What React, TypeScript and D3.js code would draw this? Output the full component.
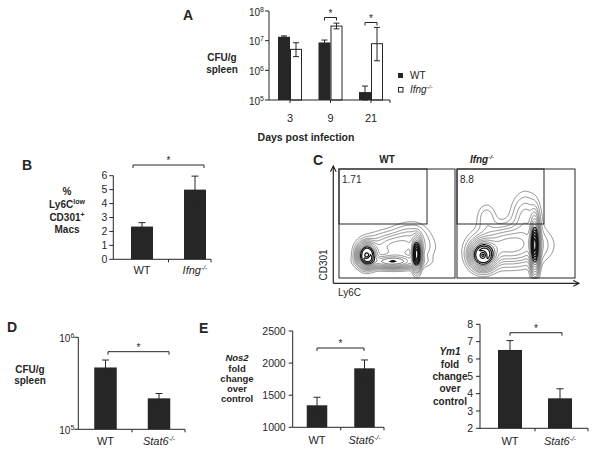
import React from "react";
import * as d3 from "d3";

const FONT = "'Liberation Sans', Arial, Helvetica, sans-serif";
const INK = "#262626";

// Panel A
const days = ["3", "9", "21"];
const wtMean = [1.35e7, 8.7e6, 1.85e5];
const wtLow = [1.3e7, 6.8e6, 1e5];
const wtHigh = [1.45e7, 1.05e7, 2.95e5];
const ifngMean = [5.1e6, 3.1e7, 7.9e6];
const ifngLow = [2.9e6, 2.5e7, 2.1e6];
const ifngHigh = [8.5e6, 3.9e7, 2.8e7];
const aTicks = [5, 6, 7, 8];

// Panel B
const bGroups = ["WT", "Ifng"];
const bMean = [2.35, 5.0];
const bErr = [0.28, 0.97];
const bTicks = [0, 1, 2, 3, 4, 5, 6];

// Panel C (contour approximations)
const wtBlobs = [
  { x: 0.24, y: 0.21, sx: 0.045, sy: 0.06, w: 1 },
  { x: 0.24, y: 0.21, sx: 0.02, sy: 0.025, w: -0.55 },
  { x: 0.67, y: 0.22, sx: 0.022, sy: 0.08, w: 0.9 },
  { x: 0.46, y: 0.15, sx: 0.13, sy: 0.035, w: 0.45 },
  { x: 0.5, y: 0.28, sx: 0.15, sy: 0.08, w: 0.22 },
  { x: 0.62, y: 0.4, sx: 0.09, sy: 0.07, w: 0.07 },
];
const ifngBlobs = [
  { x: 0.22, y: 0.21, sx: 0.06, sy: 0.07, w: 1 },
  { x: 0.22, y: 0.21, sx: 0.025, sy: 0.03, w: -0.6 },
  { x: 0.66, y: 0.3, sx: 0.022, sy: 0.14, w: 0.85 },
  { x: 0.45, y: 0.3, sx: 0.16, sy: 0.1, w: 0.3 },
  { x: 0.58, y: 0.55, sx: 0.07, sy: 0.13, w: 0.12 },
  { x: 0.25, y: 0.55, sx: 0.05, sy: 0.08, w: 0.06 },
];
const contourLevels = [0.02, 0.04, 0.07, 0.1, 0.14, 0.19, 0.25, 0.32, 0.4, 0.5, 0.6, 0.7, 0.8, 0.9];
const gateValues = ["1.71", "8.8"];

// Panel D
const dGroups = ["WT", "Stat6"];
const dMean = [4.7e5, 2.17e5];
const dLow = [3.9e5, 1.9e5];
const dHigh = [5.66e5, 2.45e5];

// Panel E
const nosMean = [1343, 1919];
const nosErr = [125, 130];
const nosTicks = [1000, 1500, 2000, 2500];
const ymMean = [6.52, 3.73];
const ymErr = [0.54, 0.55];
const ymTicks = [2, 3, 4, 5, 6, 7, 8];
const foldLines = ["fold", "change", "over", "control"];

function ErrBar({ x, y1, y2, cap = 7 }: { x: number; y1: number; y2: number; cap?: number }) {
  return (
    <g stroke={INK} strokeWidth={1}>
      <line x1={x} x2={x} y1={y1} y2={y2} />
      <line x1={x - cap / 2} x2={x + cap / 2} y1={y1} y2={y1} />
      <line x1={x - cap / 2} x2={x + cap / 2} y1={y2} y2={y2} />
    </g>
  );
}

function Bracket({ x1, x2, y }: { x1: number; x2: number; y: number }) {
  return (
    <g>
      <path d={`M${x1},${y + 3}V${y}H${x2}V${y + 3}`} fill="none" stroke={INK} strokeWidth={1} />
      <text x={(x1 + x2) / 2} y={y - 1} fontSize={10} textAnchor="middle" fontFamily={FONT} fill={INK}>*</text>
    </g>
  );
}

function Pow10({ x, y, e }: { x: number; y: number; e: number }) {
  return (
    <text x={x} y={y} fontSize={10} textAnchor="end" fontFamily={FONT} fill={INK} dy="0.35em">
      10<tspan fontSize={7} dy="-4">{e}</tspan>
    </text>
  );
}

function KO({ x, y, name, bold = false, size = 11, anchor = "middle" }: any) {
  return (
    <text x={x} y={y} fontSize={size} textAnchor={anchor} fontFamily={FONT} fill={INK} fontStyle="italic" fontWeight={bold ? "bold" : "normal"}>
      {name}<tspan fontSize={size * 0.62} dy={-4}>-/-</tspan>
    </text>
  );
}

function Contours({ x0, y0, w, h, blobs }: any) {
  const n = Math.round(w), m = Math.round(h);
  const values = new Array(n * m);
  for (let j = 0; j < m; j++) {
    for (let i = 0; i < n; i++) {
      const fx = (i + 0.5) / n;
      const fy = 1 - (j + 0.5) / m;
      let v = 0;
      for (const b of blobs) {
        const dx = (fx - b.x) / b.sx, dy = (fy - b.y) / b.sy;
        v += b.w * Math.exp(-0.5 * (dx * dx + dy * dy));
      }
      values[j * n + i] = v;
    }
  }
  const cs = d3.contours().size([n, m]).thresholds(contourLevels)(values);
  const path = d3.geoPath();
  return (
    <g transform={`translate(${x0},${y0})`}>
      {cs.map((c, k) => (
        <path key={k} d={path(c as any) || ""} fill="none" stroke={k > 7 ? "#111" : "#444"} strokeWidth={k > 8 ? 1.2 : 0.6} />
      ))}
    </g>
  );
}

export default function App() {
  const yA = d3.scaleLog().domain([1e5, 1e8]).range([100, 11]);
  const xA = d3.scalePoint().domain(days).range([290, 371]);
  const bwA = 12;
  const axA = 269;

  const yB = d3.scaleLinear().domain([0, 6]).range([259.3, 175.7]);
  const xB = d3.scalePoint().domain(bGroups).range([142, 195]);
  const bwB = 22;
  const axB = 113.3;

  const yD = d3.scaleLog().domain([1e5, 1e6]).range([429.3, 337.3]);
  const xD = d3.scalePoint().domain(dGroups).range([105.5, 159]);
  const bwD = 22.5;
  const axD = 78.3;

  const yN = d3.scaleLinear().domain([1000, 2500]).range([427.3, 331]);
  const xN = d3.scalePoint().domain(dGroups).range([317, 364.5]);
  const bwN = 20.5;
  const axN = 292.7;

  const yY = d3.scaleLinear().domain([2, 8]).range([428.3, 324.3]);
  const xY = d3.scalePoint().domain(dGroups).range([510, 560]);
  const bwY = 24;
  const axY = 480;

  const txt = { fontFamily: FONT, fill: INK } as const;

  return (
    <div style={{ position: "absolute", left: 0, top: 0 }}>
      <svg width={600} height={451} style={{ display: "block", background: "#fff" }}>
        <rect width={600} height={451} fill="#fff" />

        {/* ================= A ================= */}
        <text x={183} y={19.5} fontSize={14} fontWeight="bold" {...txt}>A</text>
        <text x={222} y={61} fontSize={10} fontWeight="bold" textAnchor="middle" {...txt}>CFU/g</text>
        <text x={222} y={72.5} fontSize={10} fontWeight="bold" textAnchor="middle" {...txt}>spleen</text>
        {days.map((d, i) => {
          const c = xA(d)!;
          return (
            <g key={d}>
              <rect x={c - bwA} y={yA(wtMean[i])} width={bwA} height={100 - yA(wtMean[i])} fill={INK} />
              <rect x={c + 0.5} y={yA(ifngMean[i])} width={bwA - 1} height={100 - yA(ifngMean[i])} fill="#fff" stroke={INK} strokeWidth={1} />
              <ErrBar x={c - bwA / 2} y1={yA(wtHigh[i])} y2={yA(wtLow[i])} cap={6} />
              <ErrBar x={c + bwA / 2} y1={yA(ifngHigh[i])} y2={yA(ifngLow[i])} cap={6} />
              <text x={c} y={122} fontSize={11} textAnchor="middle" {...txt}>{d}</text>
            </g>
          );
        })}
        <line x1={axA} x2={axA} y1={yA(1e8)} y2={100} stroke={INK} />
        <line x1={axA} x2={390} y1={100} y2={100} stroke={INK} />
        {days.map((d) => (
          <line key={d} x1={xA(d)!} x2={xA(d)!} y1={100} y2={103} stroke={INK} />
        ))}
        <line x1={390} x2={390} y1={100} y2={103} stroke={INK} />
        {aTicks.map((e) => (
          <g key={e}>
            <line x1={axA - 4} x2={axA} y1={yA(Math.pow(10, e))} y2={yA(Math.pow(10, e))} stroke={INK} />
            <Pow10 x={axA - 5} y={yA(Math.pow(10, e)) + 1} e={e} />
          </g>
        ))}
        <Bracket x1={xA("9")! - bwA / 2} x2={xA("9")! + bwA / 2} y={17.5} />
        <Bracket x1={xA("21")! - bwA / 2} x2={xA("21")! + bwA / 2} y={22.5} />
        <text x={306} y={141} fontSize={10.5} fontWeight="bold" textAnchor="middle" {...txt}>Days post infection</text>
        <rect x={398} y={73} width={5} height={5} fill={INK} />
        <text x={410} y={79} fontSize={10} {...txt}>WT</text>
        <rect x={398.5} y={87.5} width={4.5} height={4.5} fill="#fff" stroke={INK} strokeWidth={1} />
        <KO x={410} y={93} name="Ifng" size={10} anchor="start" />

        {/* ================= B ================= */}
        <text x={22} y={169.5} fontSize={14} fontWeight="bold" {...txt}>B</text>
        <text x={67} y={195} fontSize={10} fontWeight="bold" textAnchor="middle" {...txt}>%</text>
        <text x={67} y={207.5} fontSize={10} fontWeight="bold" textAnchor="middle" {...txt}>Ly6C<tspan fontSize={7} dy={-4}>low</tspan></text>
        <text x={67} y={220.5} fontSize={10} fontWeight="bold" textAnchor="middle" {...txt}>CD301<tspan fontSize={7} dy={-4}>+</tspan></text>
        <text x={67} y={233} fontSize={10} fontWeight="bold" textAnchor="middle" {...txt}>Macs</text>
        {bGroups.map((g, i) => {
          const c = xB(g)!;
          return (
            <g key={g}>
              <rect x={c - bwB / 2} y={yB(bMean[i])} width={bwB} height={yB(0) - yB(bMean[i])} fill={INK} />
              <ErrBar x={c} y1={yB(bMean[i] + bErr[i])} y2={yB(bMean[i] - bErr[i])} />
            </g>
          );
        })}
        <line x1={axB} x2={axB} y1={yB(6)} y2={yB(0)} stroke={INK} />
        <line x1={axB} x2={211} y1={yB(0)} y2={yB(0)} stroke={INK} />
        <line x1={168.5} x2={168.5} y1={yB(0)} y2={yB(0) + 3} stroke={INK} />
        <line x1={211} x2={211} y1={yB(0)} y2={yB(0) + 3} stroke={INK} />
        {bTicks.map((t) => (
          <g key={t}>
            <line x1={axB - 4} x2={axB} y1={yB(t)} y2={yB(t)} stroke={INK} />
            <text x={axB - 6} y={yB(t)} dy="0.35em" fontSize={10.5} textAnchor="end" {...txt}>{t}</text>
          </g>
        ))}
        <Bracket x1={133} x2={204} y={165} />
        <text x={xB("WT")!} y={274} fontSize={11} textAnchor="middle" {...txt}>WT</text>
        <KO x={xB("Ifng")!} y={274} name="Ifng" size={11} />

        {/* ================= C ================= */}
        <text x={313} y={165} fontSize={14} fontWeight="bold" {...txt}>C</text>
        <text x={387} y={163} fontSize={10} fontWeight="bold" textAnchor="middle" {...txt}>WT</text>
        <KO x={482} y={163} name="Ifng" size={10} bold />
        <Contours x0={339} y0={169} w={116} h={109} blobs={wtBlobs} />
        <Contours x0={457} y0={169} w={118} h={109} blobs={ifngBlobs} />
        <rect x={339} y={169} width={116} height={109} fill="none" stroke={INK} strokeWidth={1} />
        <rect x={457} y={169} width={118} height={109} fill="none" stroke={INK} strokeWidth={1} />
        <rect x={339} y={169} width={88} height={55} fill="none" stroke={INK} strokeWidth={1} />
        <rect x={457} y={169} width={87} height={55} fill="none" stroke={INK} strokeWidth={1} />
        <text x={342} y={183} fontSize={10} {...txt}>{gateValues[0]}</text>
        <text x={460} y={183} fontSize={10} {...txt}>{gateValues[1]}</text>
        <defs>
          <marker id="arr" viewBox="0 0 10 10" refX={9} refY={5} markerWidth={6} markerHeight={6} orient="auto">
            <path d="M1,1L9,5L1,9" fill="none" stroke={INK} strokeWidth={1.6} />
          </marker>
        </defs>
        <line x1={333.3} x2={333.3} y1={283.3} y2={166} stroke={INK} strokeWidth={1.2} markerEnd="url(#arr)" />
        <line x1={333.3} x2={579} y1={283.3} y2={283.3} stroke={INK} strokeWidth={1.2} markerEnd="url(#arr)" />
        <text transform="translate(326.5,265) rotate(-90)" fontSize={10} textAnchor="middle" {...txt}>CD301</text>
        <text x={338} y={296} fontSize={10} {...txt}>Ly6C</text>

        {/* ================= D ================= */}
        <text x={7} y={331.5} fontSize={14} fontWeight="bold" {...txt}>D</text>
        <text x={30} y={373} fontSize={10} fontWeight="bold" textAnchor="middle" {...txt}>CFU/g</text>
        <text x={30} y={384} fontSize={10} fontWeight="bold" textAnchor="middle" {...txt}>spleen</text>
        {dGroups.map((g, i) => {
          const c = xD(g)!;
          return (
            <g key={g}>
              <rect x={c - bwD / 2} y={yD(dMean[i])} width={bwD} height={yD(1e5) - yD(dMean[i])} fill={INK} />
              <ErrBar x={c} y1={yD(dHigh[i])} y2={yD(dLow[i])} />
            </g>
          );
        })}
        <line x1={axD} x2={axD} y1={yD(1e6)} y2={yD(1e5)} stroke={INK} />
        <line x1={axD} x2={185} y1={yD(1e5)} y2={yD(1e5)} stroke={INK} />
        <line x1={132} x2={132} y1={yD(1e5)} y2={yD(1e5) + 3} stroke={INK} />
        <line x1={185} x2={185} y1={yD(1e5)} y2={yD(1e5) + 3} stroke={INK} />
        {[5, 6].map((e) => (
          <g key={e}>
            <line x1={axD - 4} x2={axD} y1={yD(Math.pow(10, e))} y2={yD(Math.pow(10, e))} stroke={INK} />
            <Pow10 x={axD - 4} y={yD(Math.pow(10, e)) + 1} e={e} />
          </g>
        ))}
        <Bracket x1={108} x2={169} y={351.7} />
        <text x={xD("WT")!} y={445} fontSize={11} textAnchor="middle" {...txt}>WT</text>
        <KO x={xD("Stat6")!} y={445} name="Stat6" size={11} />

        {/* ================= E ================= */}
        <text x={199} y={333} fontSize={14} fontWeight="bold" {...txt}>E</text>
        <text x={237} y={361} fontSize={9.5} fontWeight="bold" fontStyle="italic" textAnchor="middle" {...txt}>Nos2</text>
        {foldLines.map((w, i) => (
          <text key={w} x={237} y={371.5 + i * 10.2} fontSize={9.5} fontWeight="bold" textAnchor="middle" {...txt}>{w}</text>
        ))}
        {dGroups.map((g, i) => {
          const c = xN(g)!;
          return (
            <g key={g}>
              <rect x={c - bwN / 2} y={yN(nosMean[i])} width={bwN} height={yN(1000) - yN(nosMean[i])} fill={INK} />
              <ErrBar x={c} y1={yN(nosMean[i] + nosErr[i])} y2={yN(nosMean[i] - nosErr[i])} />
            </g>
          );
        })}
        <line x1={axN} x2={axN} y1={yN(2500)} y2={yN(1000)} stroke={INK} />
        <line x1={axN} x2={384} y1={yN(1000)} y2={yN(1000)} stroke={INK} />
        <line x1={340.7} x2={340.7} y1={yN(1000)} y2={yN(1000) + 3} stroke={INK} />
        <line x1={384} x2={384} y1={yN(1000)} y2={yN(1000) + 3} stroke={INK} />
        {nosTicks.map((t) => (
          <g key={t}>
            <line x1={axN - 4} x2={axN} y1={yN(t)} y2={yN(t)} stroke={INK} />
            <text x={axN - 7} y={yN(t)} dy="0.35em" fontSize={10.5} textAnchor="end" {...txt}>{t}</text>
          </g>
        ))}
        <Bracket x1={317} x2={364} y={348} />
        <text x={xN("WT")!} y={444} fontSize={11} textAnchor="middle" {...txt}>WT</text>
        <KO x={xN("Stat6")!} y={444} name="Stat6" size={11} />

        <text x={450} y={355} fontSize={10} fontWeight="bold" fontStyle="italic" textAnchor="middle" {...txt}>Ym1</text>
        {foldLines.map((w, i) => (
          <text key={w} x={450} y={367.5 + i * 12.4} fontSize={10} fontWeight="bold" textAnchor="middle" {...txt}>{w}</text>
        ))}
        {dGroups.map((g, i) => {
          const c = xY(g)!;
          return (
            <g key={g}>
              <rect x={c - bwY / 2} y={yY(ymMean[i])} width={bwY} height={yY(2) - yY(ymMean[i])} fill={INK} />
              <ErrBar x={c} y1={yY(ymMean[i] + ymErr[i])} y2={yY(ymMean[i] - ymErr[i])} />
            </g>
          );
        })}
        <line x1={axY} x2={axY} y1={yY(8)} y2={yY(2)} stroke={INK} />
        <line x1={axY} x2={588} y1={yY(2)} y2={yY(2)} stroke={INK} />
        <line x1={535} x2={535} y1={yY(2)} y2={yY(2) + 3} stroke={INK} />
        <line x1={588} x2={588} y1={yY(2)} y2={yY(2) + 3} stroke={INK} />
        {ymTicks.map((t) => (
          <g key={t}>
            <line x1={axY - 4} x2={axY} y1={yY(t)} y2={yY(t)} stroke={INK} />
            <text x={axY - 7} y={yY(t)} dy="0.35em" fontSize={10.5} textAnchor="end" {...txt}>{t}</text>
          </g>
        ))}
        <Bracket x1={510} x2={562} y={332.7} />
        <text x={xY("WT")!} y={445} fontSize={11} textAnchor="middle" {...txt}>WT</text>
        <KO x={xY("Stat6")!} y={445} name="Stat6" size={11} />
      </svg>
    </div>
  );
}
